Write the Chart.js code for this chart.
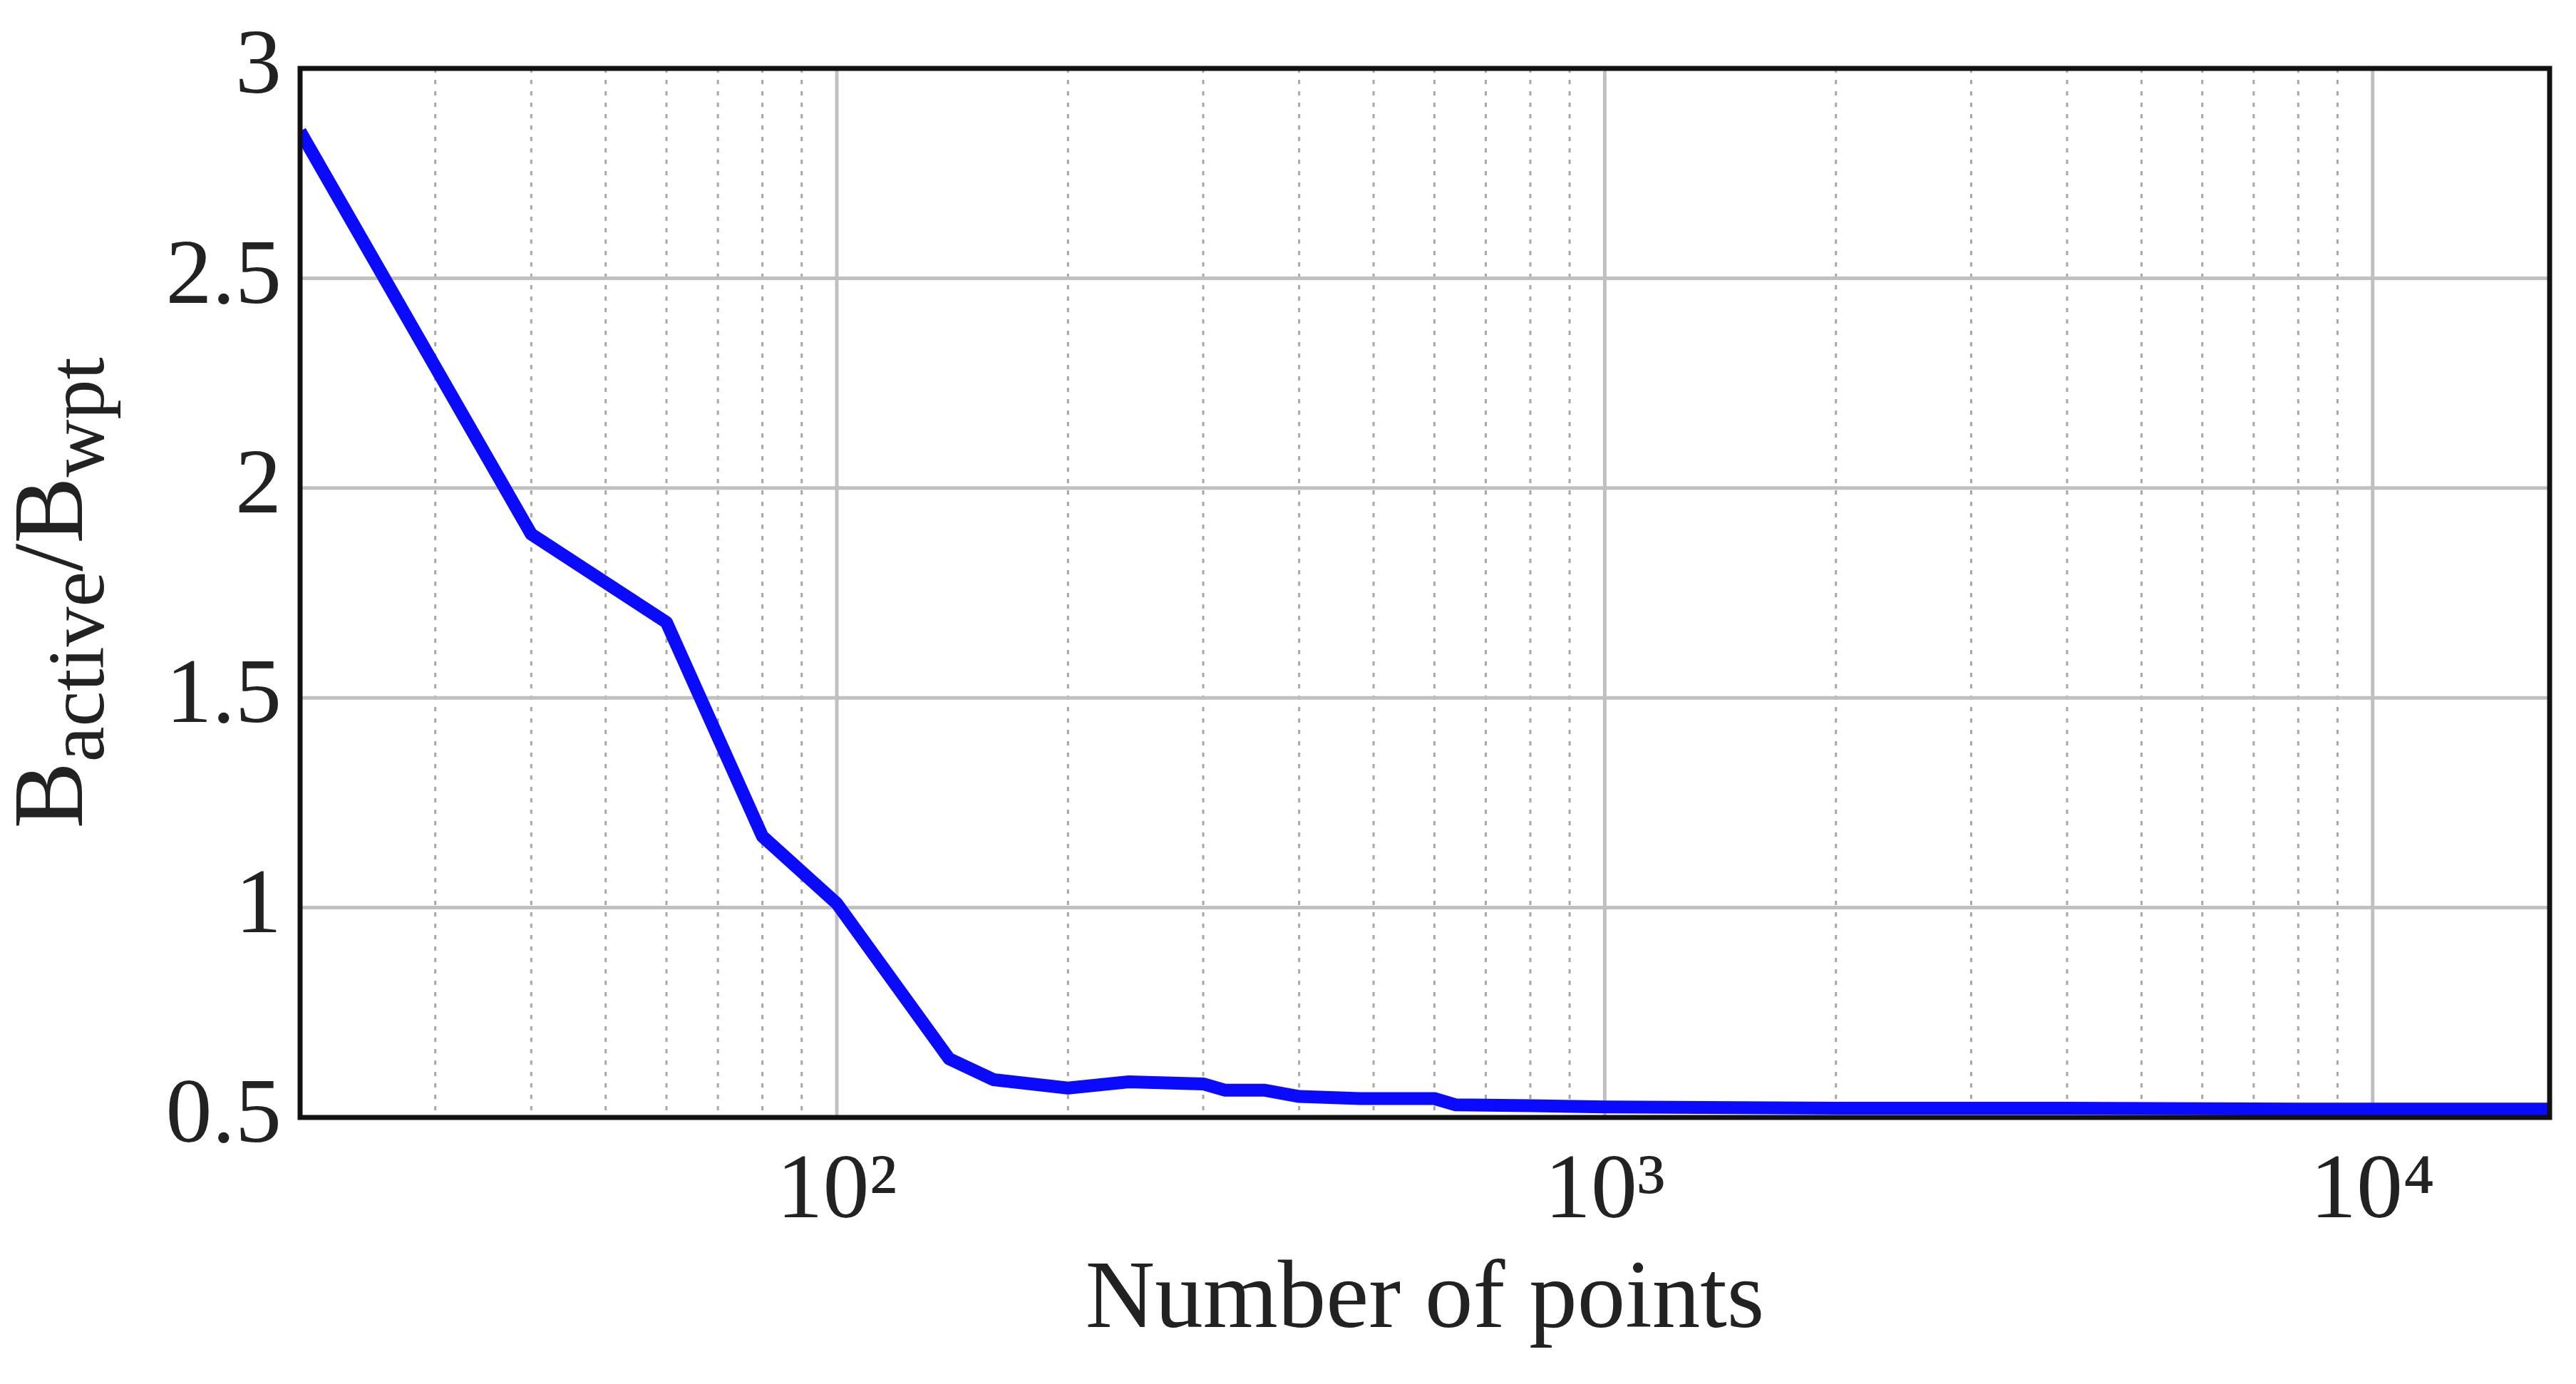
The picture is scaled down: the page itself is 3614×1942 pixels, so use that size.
<!DOCTYPE html>
<html><head><meta charset="utf-8">
<script src="https://cdn.jsdelivr.net/npm/chart.js@4/dist/chart.umd.min.js"></script>
<style>html,body{margin:0;padding:0;background:#fff}#w{width:3614px;height:1942px}</style>
</head><body><div id="w"><canvas id="c"></canvas></div>
<script>
const xValues = [20,40,60,80,100,140,160,200,240,300,320,360,400,480,600,640,800,1000,2000,4000,8000,17000];
const yValues = [2.85,1.89,1.68,1.17,1.01,0.64,0.59,0.57,0.585,0.58,0.565,0.565,0.55,0.545,0.545,0.53,0.528,0.525,0.522,0.522,0.52,0.52];
const yTicks = [0.5,1,1.5,2,2.5,3];
const xDecades = {100:'10²',1000:'10³',10000:'10⁴'};
const FONT = '"Liberation Serif", "DejaVu Serif", serif';

const gridPlugin = {
  id:'grid', beforeDatasetsDraw(ch){
    const {ctx, chartArea:a, scales:{x,y}} = ch;
    ctx.save();
    for (let d=10; d<=10000; d*=10){
      for (let m=1; m<10; m++){
        const v=d*m; if (v<20||v>17000) continue;
        const px=x.getPixelForValue(v);
        ctx.beginPath();
        if (m===1){ctx.setLineDash([]);ctx.strokeStyle='#c0c0c0';ctx.lineWidth=5;}
        else {ctx.setLineDash([6,10]);ctx.strokeStyle='#a8a8a8';ctx.lineWidth=3;}
        ctx.moveTo(px,a.top);ctx.lineTo(px,a.bottom);ctx.stroke();
      }
    }
    ctx.setLineDash([]);ctx.strokeStyle='#c0c0c0';ctx.lineWidth=5;
    yTicks.forEach(v=>{const py=y.getPixelForValue(v);ctx.beginPath();ctx.moveTo(a.left,py);ctx.lineTo(a.right,py);ctx.stroke();});
    ctx.restore();
  },
  afterDraw(ch){
    const {ctx, chartArea:a} = ch;
    ctx.save();
    ctx.strokeStyle='#111';ctx.lineWidth=7;
    ctx.strokeRect(a.left,a.top,a.right-a.left,a.bottom-a.top);
    ctx.translate(95,(a.top+a.bottom)/2);
    ctx.rotate(-Math.PI/2);
    ctx.fillStyle='#222';ctx.textBaseline='alphabetic';
    const parts=[['B',140,0],['active',112,30],['/B',140,0],['wpt',112,30]];
    let total=0;parts.forEach(p=>{ctx.font=p[1]+'px '+FONT;total+=ctx.measureText(p[0]).width;});
    let xx=-total/2;
    parts.forEach(p=>{ctx.font=p[1]+'px '+FONT;ctx.fillText(p[0],xx,20+p[2]);xx+=ctx.measureText(p[0]).width;});
    ctx.restore();
  }
};

new Chart(document.getElementById('c'),{
  type:'line',
  data:{datasets:[{data:xValues.map((v,i)=>({x:v,y:yValues[i]})),borderColor:'#0a0aff',borderWidth:18,pointRadius:0,tension:0,fill:false,borderJoinStyle:'round'}]},
  options:{
    responsive:true,maintainAspectRatio:false,animation:false,
    layout:{padding:{top:40,right:37,left:0,bottom:30}},
    plugins:{legend:{display:false},tooltip:{enabled:false}},
    scales:{
      x:{type:'logarithmic',min:20,max:17000,
        afterBuildTicks:s=>{s.ticks=[100,1000,10000].map(v=>({value:v}));},
        afterFit:s=>{s.height=1942-1568-30;},
        grid:{display:false},border:{display:false},
        ticks:{color:'#222',font:{family:FONT,size:130},padding:20,maxRotation:0,autoSkip:false,callback:v=>xDecades[v]||''},
        title:{display:true,text:'Number of points',color:'#222',font:{family:FONT,size:135},padding:{top:0}}
      },
      y:{min:0.5,max:3,
        afterBuildTicks:s=>{s.ticks=yTicks.map(v=>({value:v}));},
        afterFit:s=>{s.width=421;},
        grid:{display:false},border:{display:false},
        ticks:{color:'#222',font:{family:FONT,size:130},padding:18,callback:v=>String(v)}
      }
    }
  },
  plugins:[gridPlugin]
});
</script></body></html>
